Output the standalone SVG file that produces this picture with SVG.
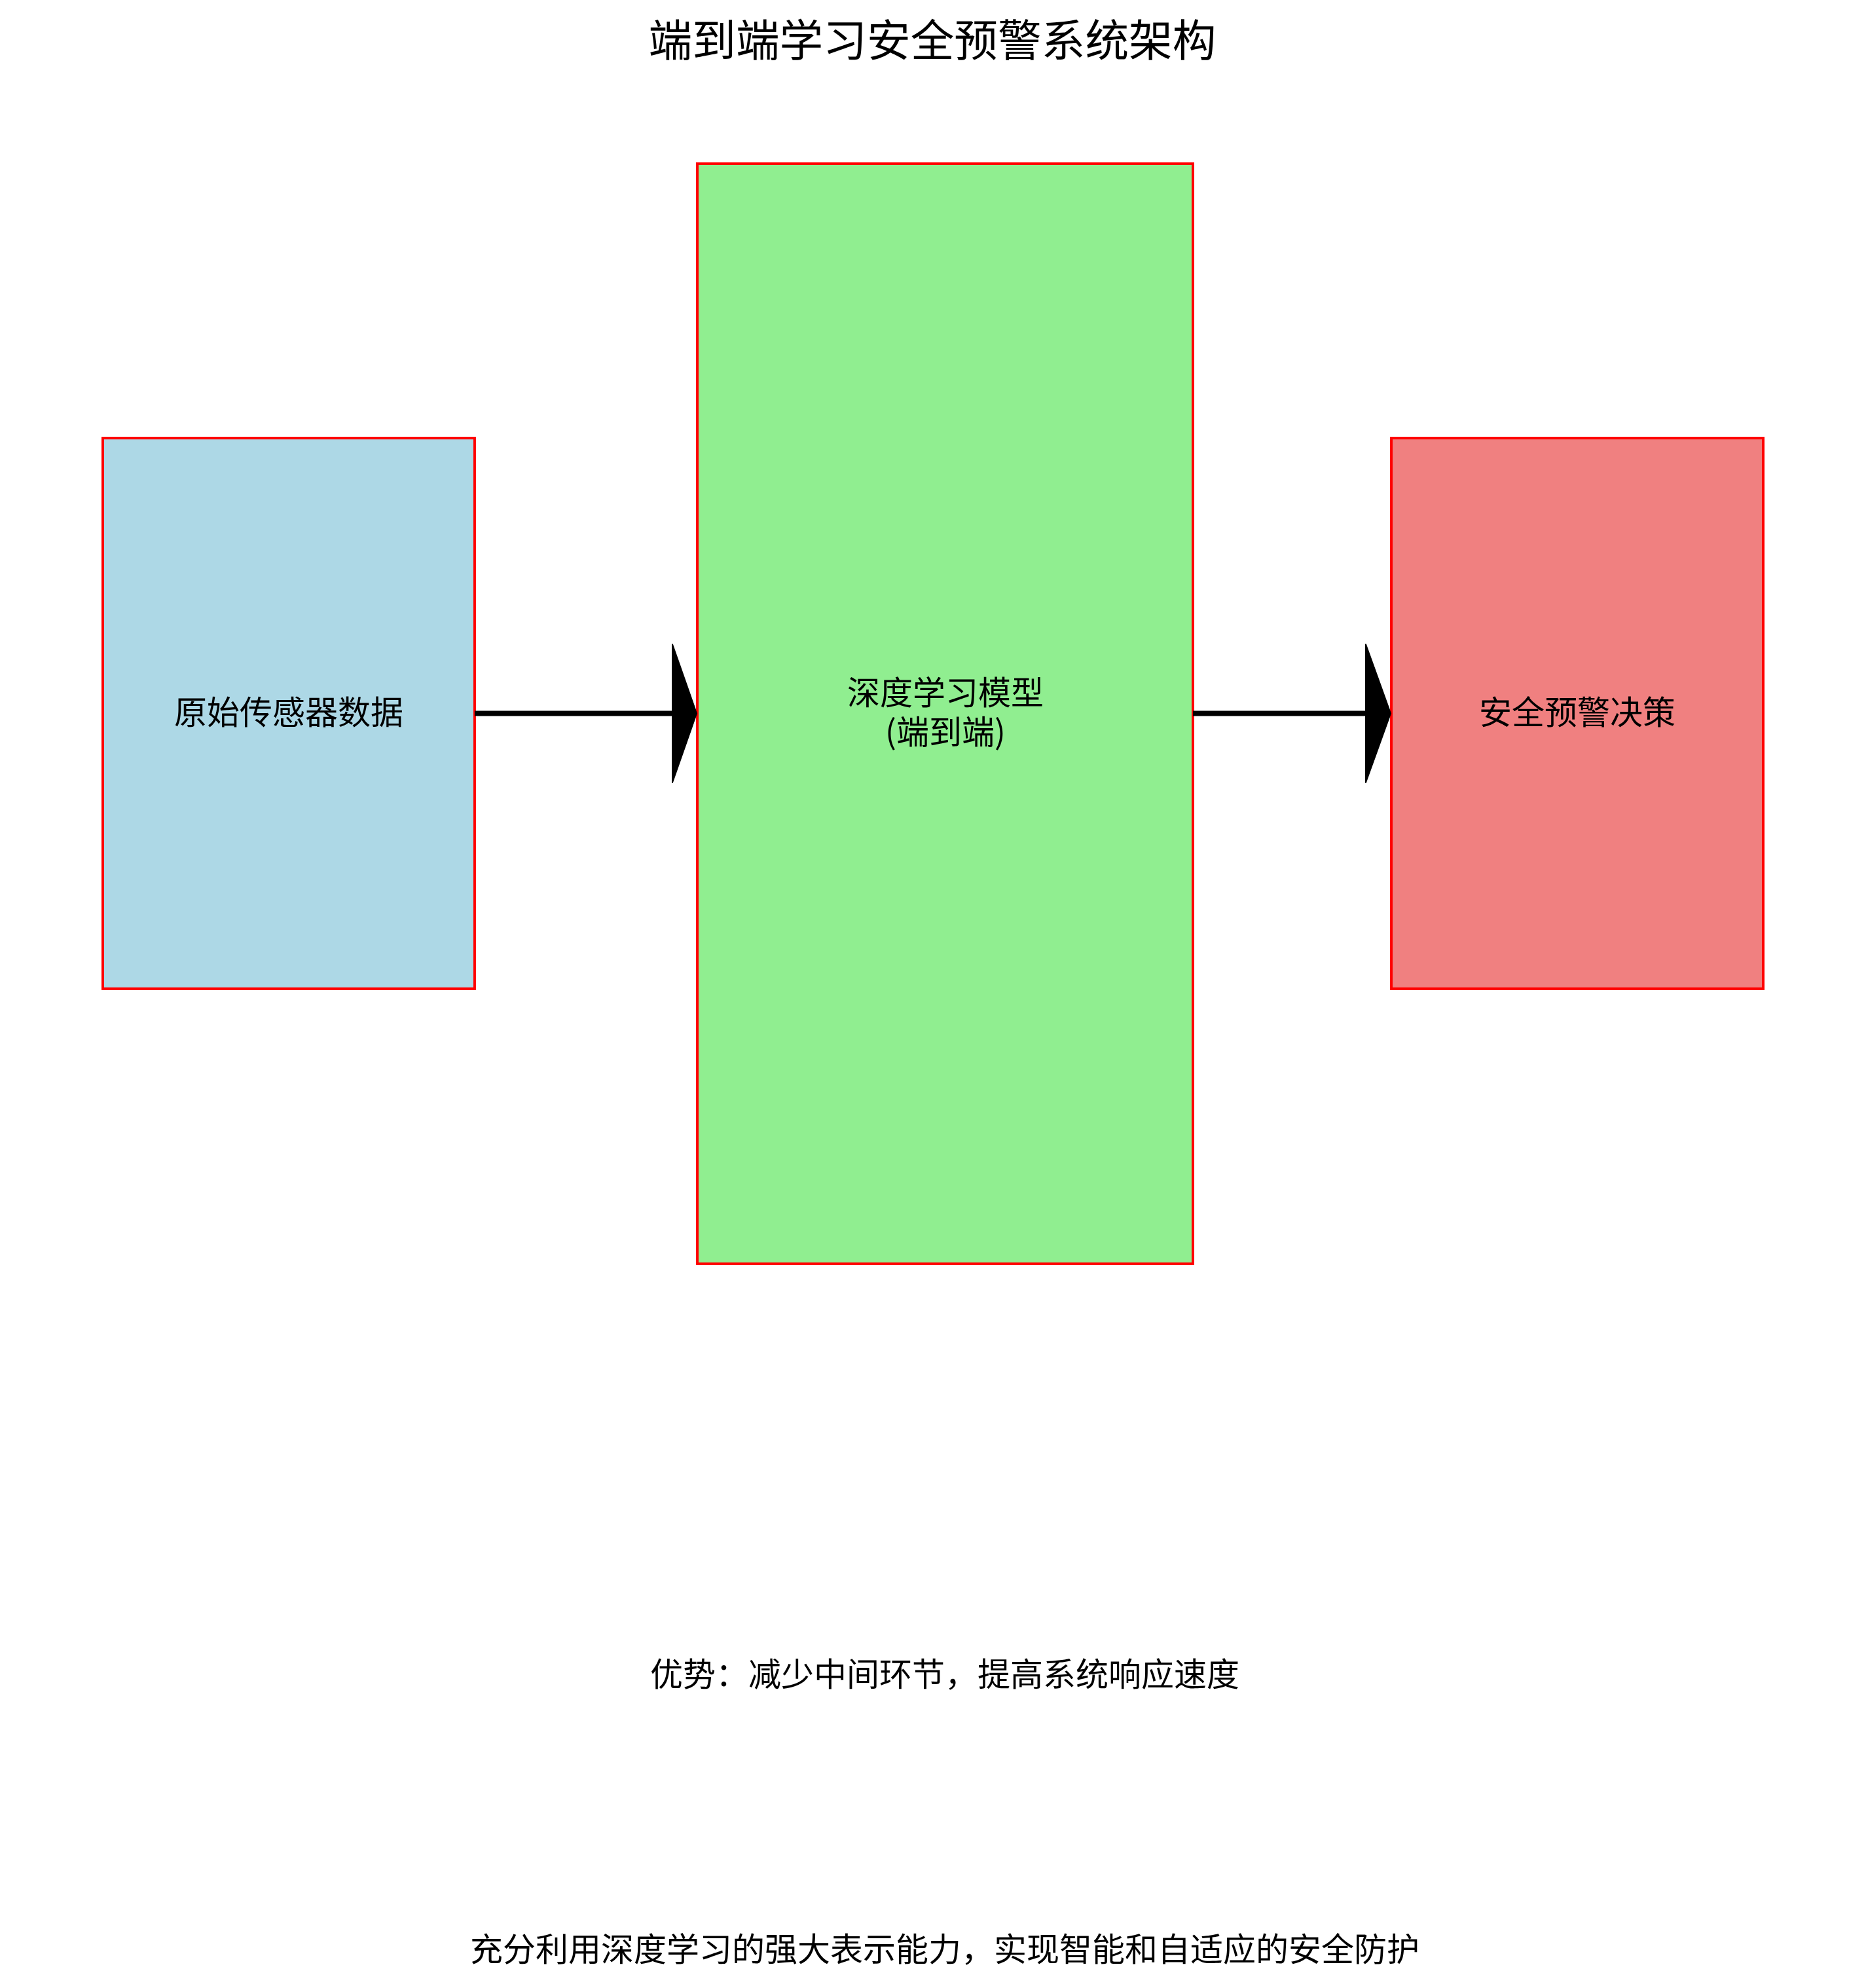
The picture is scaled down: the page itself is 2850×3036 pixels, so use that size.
<svg xmlns="http://www.w3.org/2000/svg" width="2850" height="3036" viewBox="0 0 2850 3036">
<style>
.box{stroke:#FF0000;stroke-width:4}
.lbl{font-family:"Noto Sans CJK SC","Noto Sans",sans-serif;font-size:50px;fill:#000;text-anchor:middle}
.title{font-family:"Noto Sans CJK SC","Noto Sans",sans-serif;font-size:66.7px;fill:#000;text-anchor:middle}
.conn{stroke:#000;stroke-width:8;fill:none}
.head{fill:#000;stroke:#000;stroke-width:2;stroke-linejoin:round}
</style>
<rect width="2850" height="3036" fill="#FFFFFF"/>
<text class="title" x="1424" y="86">端到端学习安全预警系统架构</text>
<g id="node-input">
<rect class="box" x="157" y="669" width="568" height="841" fill="#ADD8E6"/>
<text class="lbl" x="441" y="1106">原始传感器数据</text>
</g>
<g id="node-model">
<rect class="box" x="1065" y="250" width="757" height="1680" fill="#90EE90"/>
<text class="lbl" x="1444" y="1076">深度学习模型</text>
<text class="lbl" x="1444" y="1136">(端到端)</text>
</g>
<g id="node-decision">
<rect class="box" x="2125" y="669" width="568" height="841" fill="#F08080"/>
<text class="lbl" x="2409" y="1106">安全预警决策</text>
</g>
<g id="connectors">
<line class="conn" x1="725" y1="1089.5" x2="1030" y2="1089.5"/>
<polygon class="head" points="1027,984 1064,1089.5 1027,1195"/>
<line class="conn" x1="1822" y1="1089.5" x2="2089" y2="1089.5"/>
<polygon class="head" points="2086,984 2124,1089.5 2086,1195"/>
</g>
<text class="lbl" x="1443" y="2575">优势：减少中间环节，提高系统响应速度</text>
<text class="lbl" x="1443" y="2995">充分利用深度学习的强大表示能力，实现智能和自适应的安全防护</text>
</svg>
